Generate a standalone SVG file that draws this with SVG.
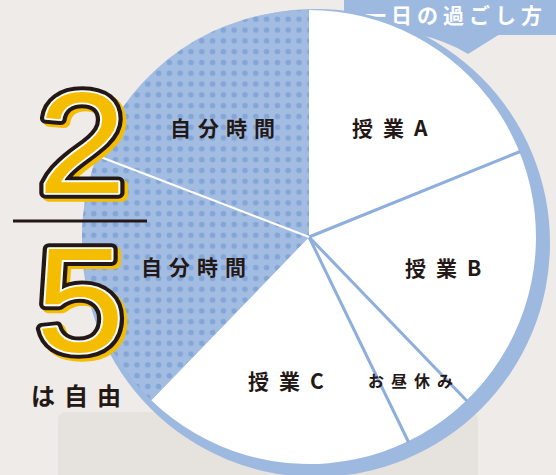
<svg xmlns="http://www.w3.org/2000/svg" width="556" height="475" viewBox="0 0 556 475">
<defs>
<pattern id="dots" width="10.8" height="10.8" patternUnits="userSpaceOnUse" x="2" y="3">
<rect width="10.8" height="10.8" fill="#a3bde2"/>
<circle cx="5.4" cy="5.4" r="2.8" fill="#84a6d7"/>
</pattern>
<text id="d2" x="0" y="0" text-anchor="middle" font-family="'Liberation Sans',Arial,sans-serif" font-size="140">2</text>
<text id="d5" x="0" y="0" text-anchor="middle" font-family="'Liberation Sans',Arial,sans-serif" font-size="140">5</text>
<style>
.lbl{font-family:"Noto Sans CJK JP","Noto Sans",sans-serif;font-weight:700;fill:#231815}
.sep{stroke:#8eaedc;stroke-width:3;stroke-linecap:round}
.sh{fill:#f5bd00;stroke:#f5bd00;stroke-width:11;stroke-linejoin:round}
.ol{fill:none;stroke:#231815;stroke-width:11;stroke-linejoin:round}
.wl{fill:none;stroke:#ffffff;stroke-width:3.5;stroke-linejoin:round}
.fl{fill:#f5bd00;stroke:none}
</style>
</defs>
<rect width="556" height="475" fill="#eeebe8"/>
<rect x="58" y="412" width="420" height="90" rx="8" fill="#e6e2de"/>
<g id="callout">
<rect x="344" y="-12" width="230" height="47" rx="7" fill="#9eb9e0"/>
<path d="M416,34 Q445,40 468,54 L500,34 Z" fill="#9eb9e0"/>
<text x="365" y="23" font-family="'Noto Sans CJK JP',sans-serif" font-size="21" font-weight="700" fill="#ffffff" letter-spacing="5">一日の過ごし方</text>
</g>
<g id="pie">
<circle cx="316" cy="243" r="234" fill="#9db9e0"/>
<path d="M309,237 L309,10 A227,227 0 1 1 151.3,400.3 Z" fill="#ffffff"/>
<path d="M309,237 L151.3,400.3 A227,227 0 0 1 309,10 Z" fill="url(#dots)"/>
</g>
<g id="connectors">
<line class="sep" x1="309" y1="237" x2="519" y2="152"/>
<line class="sep" x1="309" y1="237" x2="466" y2="400"/>
<line class="sep" x1="309" y1="237" x2="408" y2="441"/>
<line x1="309" y1="237" x2="98" y2="156" stroke="#ffffff" stroke-width="2.2"/>
</g>
<g id="slice-a"><text class="lbl" x="352" y="136" font-size="21" letter-spacing="10">授業A</text></g>
<g id="slice-b"><text class="lbl" x="405" y="276" font-size="21" letter-spacing="10">授業B</text></g>
<g id="slice-lunch"><text class="lbl" x="368" y="387" font-size="16" letter-spacing="7">お昼休み</text></g>
<g id="slice-c"><text class="lbl" x="248" y="389" font-size="21" letter-spacing="10">授業C</text></g>
<g id="slice-free1"><text class="lbl" x="170" y="136" font-size="21" letter-spacing="7">自分時間</text></g>
<g id="slice-free2"><text class="lbl" x="141" y="275" font-size="21" letter-spacing="7">自分時間</text></g>
<g id="fraction">
<g transform="translate(82,193) scale(1.14,1.03)">
<use href="#d2" class="sh" x="3" y="3"/>
<use href="#d2" class="ol"/>
<use href="#d2" class="wl"/>
<use href="#d2" class="fl"/>
</g>
<line x1="13" y1="221" x2="147" y2="221" stroke="#231815" stroke-width="3"/>
<g transform="translate(80,352) scale(1.14,1.06)">
<use href="#d5" class="sh" x="3" y="3"/>
<use href="#d5" class="ol"/>
<use href="#d5" class="wl"/>
<use href="#d5" class="fl"/>
</g>
<text class="lbl" x="31" y="405" font-size="24" letter-spacing="9">は自由</text>
</g>
</svg>
